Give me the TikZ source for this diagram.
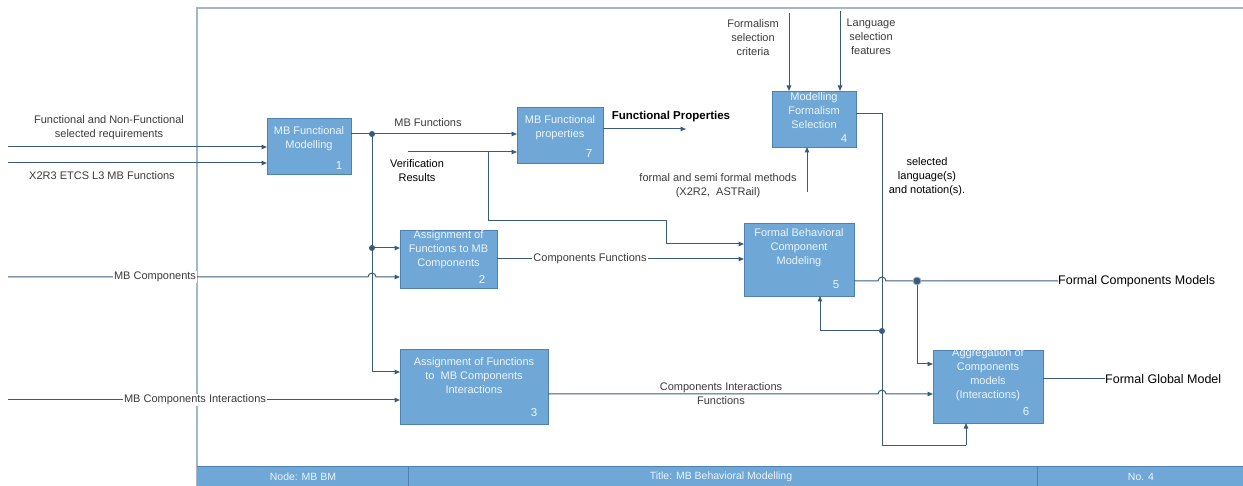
\documentclass[tikz,border=0pt]{standalone}
\usepackage{fontspec}
\setmainfont{Liberation Sans}
\usetikzlibrary{arrows.meta}
\definecolor{boxfill}{HTML}{6FA8D6}
\definecolor{boxline}{HTML}{4F81B0}
\definecolor{wirec}{HTML}{3A5A7A}
\definecolor{framec}{HTML}{A3B7CA}
\definecolor{lblc}{HTML}{3A3A3A}
\definecolor{boxtxt}{HTML}{EEF4FA}
\begin{document}
\begin{tikzpicture}[x=1pt,y=-1pt,
  box/.style={draw=boxline, line width=0.9pt, fill=boxfill, inner sep=0pt, outer sep=0pt, anchor=north west},
  btext/.style={text=boxtxt, font=\fontsize{11}{14}\selectfont, align=center, inner sep=0pt},
  bnum/.style={text=boxtxt, font=\fontsize{11.5}{13}\selectfont, inner sep=0pt},
  lab/.style={text=lblc, font=\fontsize{11}{14}\selectfont, align=center, inner sep=0pt},
  blab/.style={text=black, font=\fontsize{11}{14}\selectfont, align=center, inner sep=0pt},
  wlab/.style={lab, fill=white, inner sep=1pt},
  olab/.style={text=black, font=\fontsize{12.5}{15}\selectfont, inner sep=0pt, anchor=west},
  wire/.style={draw=wirec, line width=1pt},
  arr/.style={wire, -{Triangle[length=5.5pt,width=4.5pt]}},
  jdot/.style={circle, fill=wirec, inner sep=0pt, minimum size=6pt},
  bigdot/.style={circle, fill=wirec, draw=framec, line width=0.8pt, inner sep=0pt, minimum size=8pt},
  bartxt/.style={text=boxtxt, font=\fontsize{10.5}{12}\selectfont, inner sep=0pt},
]
\useasboundingbox (0,0) rectangle (1243,486);

% frame and bottom bar
\draw[draw=framec, line width=2pt] (197,486) -- (197,8) -- (1243,8);
\fill[boxfill] (197,466) rectangle (1243,486);
\draw[draw=boxline, line width=1pt] (197,466) -- (1243,466);
\draw[draw=boxline, line width=1pt] (408,466) -- (408,486);
\draw[draw=boxline, line width=1pt] (1037,466) -- (1037,486);
\node[bartxt] (barnode) at (303,477) {Node: MB BM};
\node[bartxt] (bartitle) at (721,477) {Title: MB Behavioral Modelling};
\node[bartxt] (barno) at (1141,477) {No. 4};

% boxes
\node[box, minimum width=84, minimum height=56] (b1) at (267,118) {};
\node[box, minimum width=86, minimum height=56] (b7) at (517,107) {};
\node[box, minimum width=84, minimum height=56] (b4) at (772,91) {};
\node[box, minimum width=97, minimum height=58] (b2) at (400,230) {};
\node[box, minimum width=110, minimum height=73] (b5) at (744,223) {};
\node[box, minimum width=148, minimum height=75] (b3) at (400,349) {};
\node[box, minimum width=110, minimum height=73] (b6) at (933,350) {};

\node[btext] (b1t) at (309,139) {MB Functional\\Modelling};
\node[btext] (b7t) at (560,127.5) {MB Functional\\properties};
\node[btext] (b4t) at (814,111) {Modelling\\Formalism\\Selection};
\node[btext] (b2t) at (448.5,250) {Assignment of\\Functions to MB\\Components};
\node[btext] (b5t) at (799,248) {Formal Behavioral\\Component\\Modeling};
\node[btext] (b3t) at (474,376) {Assignment of Functions\\to~~MB Components\\Interactions};
\node[btext] (b6t) at (988,375) {Aggregation of\\Components\\models\\(Interactions)};

\node[bnum] (b1n) at ([shift={(-12,-8)}]b1.south east) {1};
\node[bnum] (b7n) at ([shift={(-14,-9)}]b7.south east) {7};
\node[bnum] (b4n) at ([shift={(-12,-8)}]b4.south east) {4};
\node[bnum] (b2n) at ([shift={(-15,-9)}]b2.south east) {2};
\node[bnum] (b5n) at ([shift={(-18,-11)}]b5.south east) {5};
\node[bnum] (b3n) at ([shift={(-14,-11)}]b3.south east) {3};
\node[bnum] (b6n) at ([shift={(-17,-11)}]b6.south east) {6};

% coordinates
\coordinate (s1) at (8,147);
\coordinate (s2) at (8,163);
\coordinate (s3) at (8,277);
\coordinate (s5) at (8,400);
\coordinate (j1) at (372,134);
\coordinate (j2) at (372,248);
\coordinate (c3) at (372,372);
\coordinate (s4) at (408,152);
\coordinate (v1) at (488,152);
\coordinate (v2) at (666,244);
\coordinate (e7) at (686,129);
\coordinate (t1) at (789,13);
\coordinate (t2) at (840,11);
\coordinate (t3) at (807,192);
\coordinate (k1) at (882,114);
\coordinate (j3) at (882,331);
\coordinate (k2) at (882,445);
\coordinate (k3) at (966,445);
\coordinate (k4) at (820,331);
\coordinate (j4) at (917,281);
\coordinate (e5) at (1058,281);
\coordinate (k5) at (917,364);
\coordinate (k6) at (497,259);
\coordinate (k7) at (548,394);
\coordinate (e6) at (1105,379);

% inputs to box 1
\draw[arr] (s1) -- (s1 -| b1.west);
\draw[arr] (s2) -- (s2 -| b1.west);
% box 1 output and distribution
\draw[wire] (b1.east |- j1) -- (j1);
\draw[arr] (j1) -- (j1 -| b7.west);
\draw[wire] (j1) -- (c3);
\draw[arr] (c3) -- (c3 -| b3.west);
\draw[arr] (j2) -- (j2 -| b2.west);
% MB components with hop
\draw[arr] (s3) -- (368,277) arc[start angle=180, end angle=0, radius=4pt] -- (s3 -| b2.west);
% verification results
\draw[arr] (s4) -- (s4 -| b7.west);
\draw[arr] (v1) -- ++(0,69) -| (v2) -- (v2 -| b5.west);
% box 7 output
\draw[arr] (b7.east |- e7) -- (e7);
% box 4 controls
\draw[arr] (t1) -- (t1 |- b4.north);
\draw[arr] (t2) -- (t2 |- b4.north);
\draw[arr] (t3) -- (t3 |- b4.south);
% box 4 output
\draw[wire] (b4.east |- k1) -- (k1) -- (k2) -- (k3);
\draw[arr] (k3) -- (k3 |- b6.south);
\draw[arr] (j3) -- (k4) -- (k4 |- b5.south);
% box 2 output
\draw[arr] (b2.east |- k6) -- (k6 -| b5.west);
% box 5 output
\draw[wire] (b5.east |- j4) -- (878,281) arc[start angle=180, end angle=0, radius=4pt] -- (j4) -- (e5);
\draw[arr] (j4) -- (k5) -- (k5 -| b6.west);
% box 3 output
\draw[arr] (k7) -- (878,394) arc[start angle=180, end angle=0, radius=4pt] -- (k7 -| b6.west);
% MB components interactions
\draw[arr] (s5) -- (s5 -| b3.west);
% box 6 output
\draw[wire] (b6.east |- e6) -- (e6);

% dots
\node[jdot] (d1) at (j1) {};
\node[jdot] (d2) at (j2) {};
\node[jdot] (d3) at (j3) {};
\node[bigdot] (d4) at (j4) {};

% labels
\node[lab] (l1) at (109,127.5) {Functional and Non-Functional\\selected requirements};
\node[lab] (l2) at (102,176) {X2R3 ETCS L3 MB Functions};
\node[wlab] (l3) at (155,277) {MB Components};
\node[wlab] (l4) at (195,400) {MB Components Interactions};
\node[lab] (l5) at (428,123) {MB Functions};
\node[blab] (l6) at (417,171) {Verification\\Results};
\node[text=black, font=\bfseries\fontsize{11.5}{14}\selectfont, inner sep=0pt] (l7) at (671,117) {Functional Properties};
\node[wlab] (l8) at (590,259) {Components Functions};
\node[lab] (l9) at (753,38) {Formalism\\selection\\criteria};
\node[lab] (l10) at (871,36.5) {Language\\selection\\features};
\node[lab] (l11) at (718,186) {formal and semi formal methods\\(X2R2,~~ASTRail)};
\node[blab] (l12) at (927,177) {selected\\language(s)\\and notation(s).};
\node[lab] (l13) at (721,394) {Components Interactions\\Functions};
\node[olab] (l14) at (e5) {Formal Components Models};
\node[olab] (l15) at (e6) {Formal Global Model};
\end{tikzpicture}
\end{document}
